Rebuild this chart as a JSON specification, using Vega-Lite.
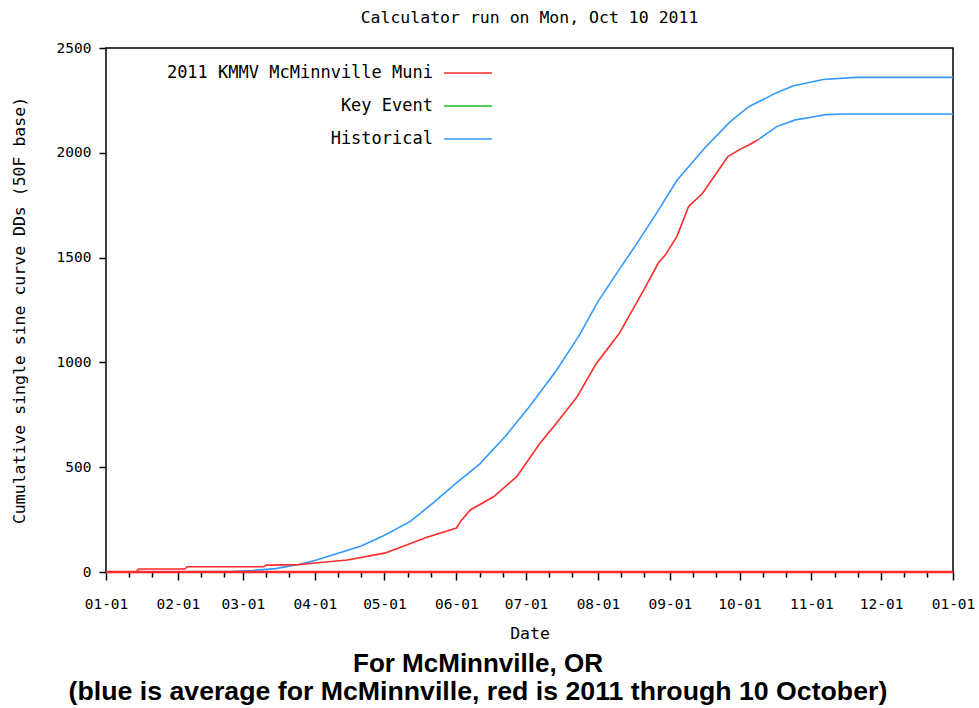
{
  "$schema": "https://vega.github.io/schema/vega-lite/v6.json",
  "padding": {"left": 10, "top": 8, "right": 5, "bottom": 2},
  "background": "white",
  "title": {
    "text": "For McMinnville, OR",
    "subtitle": "(blue is average for McMinnville, red is 2011 through 10 October)",
    "orient": "bottom",
    "anchor": "middle",
    "frame": "bounds",
    "dx": -15,
    "font": "Liberation Sans",
    "fontSize": 26,
    "fontWeight": "bold",
    "color": "black",
    "subtitleFont": "Liberation Sans",
    "subtitleFontSize": 26.7,
    "subtitleFontWeight": "bold",
    "subtitleColor": "black",
    "subtitlePadding": 2,
    "offset": 8
  },
  "datasets": {
    "dd": [
      {"d": "2011-01-01", "v": 0, "s": "Historical", "g": "hist"},
      {"d": "2011-02-01", "v": 1, "s": "Historical", "g": "hist"},
      {"d": "2011-02-25", "v": 3, "s": "Historical", "g": "hist"},
      {"d": "2011-03-05", "v": 7, "s": "Historical", "g": "hist"},
      {"d": "2011-03-15", "v": 16, "s": "Historical", "g": "hist"},
      {"d": "2011-03-25", "v": 36, "s": "Historical", "g": "hist"},
      {"d": "2011-04-01", "v": 55, "s": "Historical", "g": "hist"},
      {"d": "2011-04-11", "v": 89, "s": "Historical", "g": "hist"},
      {"d": "2011-04-21", "v": 124, "s": "Historical", "g": "hist"},
      {"d": "2011-05-01", "v": 175, "s": "Historical", "g": "hist"},
      {"d": "2011-05-12", "v": 240, "s": "Historical", "g": "hist"},
      {"d": "2011-05-22", "v": 330, "s": "Historical", "g": "hist"},
      {"d": "2011-06-01", "v": 425, "s": "Historical", "g": "hist"},
      {"d": "2011-06-11", "v": 515, "s": "Historical", "g": "hist"},
      {"d": "2011-06-22", "v": 646, "s": "Historical", "g": "hist"},
      {"d": "2011-07-02", "v": 782, "s": "Historical", "g": "hist"},
      {"d": "2011-07-14", "v": 960, "s": "Historical", "g": "hist"},
      {"d": "2011-07-24", "v": 1130, "s": "Historical", "g": "hist"},
      {"d": "2011-08-01", "v": 1290, "s": "Historical", "g": "hist"},
      {"d": "2011-08-10", "v": 1440, "s": "Historical", "g": "hist"},
      {"d": "2011-08-19", "v": 1588, "s": "Historical", "g": "hist"},
      {"d": "2011-08-27", "v": 1725, "s": "Historical", "g": "hist"},
      {"d": "2011-09-04", "v": 1868, "s": "Historical", "g": "hist"},
      {"d": "2011-09-16", "v": 2023, "s": "Historical", "g": "hist"},
      {"d": "2011-09-27", "v": 2149, "s": "Historical", "g": "hist"},
      {"d": "2011-10-05", "v": 2220, "s": "Historical", "g": "hist"},
      {"d": "2011-10-17", "v": 2287, "s": "Historical", "g": "hist"},
      {"d": "2011-10-24", "v": 2319, "s": "Historical", "g": "hist"},
      {"d": "2011-11-06", "v": 2350, "s": "Historical", "g": "hist"},
      {"d": "2011-11-20", "v": 2360, "s": "Historical", "g": "hist"},
      {"d": "2012-01-01", "v": 2360, "s": "Historical", "g": "hist"},
      {"d": "2011-10-09", "v": 2062, "s": "Historical", "g": "fc"},
      {"d": "2011-10-17", "v": 2125, "s": "Historical", "g": "fc"},
      {"d": "2011-10-25", "v": 2157, "s": "Historical", "g": "fc"},
      {"d": "2011-11-01", "v": 2170, "s": "Historical", "g": "fc"},
      {"d": "2011-11-07", "v": 2182, "s": "Historical", "g": "fc"},
      {"d": "2011-11-15", "v": 2185, "s": "Historical", "g": "fc"},
      {"d": "2012-01-01", "v": 2185, "s": "Historical", "g": "fc"},
      {"d": "2011-01-01", "v": 0, "s": "2011 KMMV McMinnville Muni", "g": "obs"},
      {"d": "2011-01-14", "v": 0, "s": "2011 KMMV McMinnville Muni", "g": "obs"},
      {"d": "2011-01-15", "v": 14, "s": "2011 KMMV McMinnville Muni", "g": "obs"},
      {"d": "2011-02-04", "v": 14, "s": "2011 KMMV McMinnville Muni", "g": "obs"},
      {"d": "2011-02-05", "v": 25, "s": "2011 KMMV McMinnville Muni", "g": "obs"},
      {"d": "2011-03-10", "v": 25, "s": "2011 KMMV McMinnville Muni", "g": "obs"},
      {"d": "2011-03-11", "v": 33, "s": "2011 KMMV McMinnville Muni", "g": "obs"},
      {"d": "2011-03-25", "v": 35, "s": "2011 KMMV McMinnville Muni", "g": "obs"},
      {"d": "2011-04-01", "v": 43, "s": "2011 KMMV McMinnville Muni", "g": "obs"},
      {"d": "2011-04-15", "v": 57, "s": "2011 KMMV McMinnville Muni", "g": "obs"},
      {"d": "2011-05-01", "v": 90, "s": "2011 KMMV McMinnville Muni", "g": "obs"},
      {"d": "2011-05-06", "v": 110, "s": "2011 KMMV McMinnville Muni", "g": "obs"},
      {"d": "2011-05-19", "v": 165, "s": "2011 KMMV McMinnville Muni", "g": "obs"},
      {"d": "2011-06-01", "v": 210, "s": "2011 KMMV McMinnville Muni", "g": "obs"},
      {"d": "2011-06-03", "v": 245, "s": "2011 KMMV McMinnville Muni", "g": "obs"},
      {"d": "2011-06-07", "v": 296, "s": "2011 KMMV McMinnville Muni", "g": "obs"},
      {"d": "2011-06-10", "v": 315, "s": "2011 KMMV McMinnville Muni", "g": "obs"},
      {"d": "2011-06-17", "v": 359, "s": "2011 KMMV McMinnville Muni", "g": "obs"},
      {"d": "2011-06-27", "v": 455, "s": "2011 KMMV McMinnville Muni", "g": "obs"},
      {"d": "2011-07-07", "v": 614, "s": "2011 KMMV McMinnville Muni", "g": "obs"},
      {"d": "2011-07-14", "v": 709, "s": "2011 KMMV McMinnville Muni", "g": "obs"},
      {"d": "2011-07-23", "v": 836, "s": "2011 KMMV McMinnville Muni", "g": "obs"},
      {"d": "2011-07-31", "v": 990, "s": "2011 KMMV McMinnville Muni", "g": "obs"},
      {"d": "2011-08-10", "v": 1135, "s": "2011 KMMV McMinnville Muni", "g": "obs"},
      {"d": "2011-08-20", "v": 1331, "s": "2011 KMMV McMinnville Muni", "g": "obs"},
      {"d": "2011-08-27", "v": 1474, "s": "2011 KMMV McMinnville Muni", "g": "obs"},
      {"d": "2011-08-30", "v": 1512, "s": "2011 KMMV McMinnville Muni", "g": "obs"},
      {"d": "2011-09-04", "v": 1600, "s": "2011 KMMV McMinnville Muni", "g": "obs"},
      {"d": "2011-09-09", "v": 1743, "s": "2011 KMMV McMinnville Muni", "g": "obs"},
      {"d": "2011-09-15", "v": 1806, "s": "2011 KMMV McMinnville Muni", "g": "obs"},
      {"d": "2011-09-19", "v": 1870, "s": "2011 KMMV McMinnville Muni", "g": "obs"},
      {"d": "2011-09-22", "v": 1918, "s": "2011 KMMV McMinnville Muni", "g": "obs"},
      {"d": "2011-09-26", "v": 1982, "s": "2011 KMMV McMinnville Muni", "g": "obs"},
      {"d": "2011-10-01", "v": 2015, "s": "2011 KMMV McMinnville Muni", "g": "obs"},
      {"d": "2011-10-05", "v": 2037, "s": "2011 KMMV McMinnville Muni", "g": "obs"},
      {"d": "2011-10-09", "v": 2062, "s": "2011 KMMV McMinnville Muni", "g": "obs"},
      {"d": "2011-01-01", "v": 0, "s": "2011 KMMV McMinnville Muni", "g": "zero"},
      {"d": "2012-01-01", "v": 0, "s": "2011 KMMV McMinnville Muni", "g": "zero"}
    ]
  },
  "vconcat": [
    {
      "width": 847,
      "height": 524,
      "title": {
        "text": "Calculator run on Mon, Oct 10 2011",
        "anchor": "middle",
        "frame": "group",
        "font": "DejaVu Sans Mono",
        "fontSize": 16.5,
        "fontWeight": "normal",
        "color": "black",
        "offset": 14
      },
      "data": {"name": "dd"},
      "resolve": {"axis": {"x": "independent"}},
      "layer": [
        {
          "transform": [{"filter": "datum.s == 'Historical'"}],
          "mark": {"type": "line", "strokeWidth": 1.6, "clip": true},
          "encoding": {
            "x": {
              "field": "d", "type": "temporal",
              "scale": {"type": "utc", "domain": [{"year": 2011, "month": 1, "date": 1, "utc": true}, {"year": 2012, "month": 1, "date": 1, "utc": true}]},
              "axis": {
                "orient": "bottom",
                "title": "Date",
                "labelExpr": "utcFormat(datum.value, '%m-%d')",
                "values": [
                  {"year": 2011, "month": 1, "date": 1, "utc": true},
                  {"year": 2011, "month": 2, "date": 1, "utc": true},
                  {"year": 2011, "month": 3, "date": 1, "utc": true},
                  {"year": 2011, "month": 4, "date": 1, "utc": true},
                  {"year": 2011, "month": 5, "date": 1, "utc": true},
                  {"year": 2011, "month": 6, "date": 1, "utc": true},
                  {"year": 2011, "month": 7, "date": 1, "utc": true},
                  {"year": 2011, "month": 8, "date": 1, "utc": true},
                  {"year": 2011, "month": 9, "date": 1, "utc": true},
                  {"year": 2011, "month": 10, "date": 1, "utc": true},
                  {"year": 2011, "month": 11, "date": 1, "utc": true},
                  {"year": 2011, "month": 12, "date": 1, "utc": true},
                  {"year": 2012, "month": 1, "date": 1, "utc": true}
                ],
                "tickSize": 8,
                "labelPadding": 17,
                "titlePadding": 15,
                "labelFlush": false,
                "labelOverlap": false
              }
            },
            "y": {
              "field": "v", "type": "quantitative",
              "scale": {"domain": [0, 2500], "nice": false},
              "axis": {
                "title": "Cumulative single sine curve DDs (50F base)",
                "format": "d",
                "values": [0, 500, 1000, 1500, 2000, 2500],
                "tickSize": 7,
                "labelPadding": 8,
                "titlePadding": 29
              }
            },
            "color": {
              "field": "s", "type": "nominal",
              "scale": {"domain": ["2011 KMMV McMinnville Muni", "Key Event", "Historical"], "range": ["#ff2b2b", "#22bb22", "#3399ff"]}
            },
            "detail": {"field": "g"}
          }
        },
        {
          "transform": [{"filter": "datum.g == 'obs'"}],
          "mark": {"type": "line", "strokeWidth": 1.6, "clip": true},
          "encoding": {
            "x": {
              "field": "d", "type": "temporal",
              "axis": {
                "orient": "bottom",
                "title": null,
                "labels": false,
                "domain": false,
                "grid": false,
                "tickSize": 5,
                "values": [
                  {"year": 2011, "month": 1, "date": 11, "utc": true}, {"year": 2011, "month": 1, "date": 21, "utc": true},
                  {"year": 2011, "month": 2, "date": 11, "utc": true}, {"year": 2011, "month": 2, "date": 21, "utc": true},
                  {"year": 2011, "month": 3, "date": 11, "utc": true}, {"year": 2011, "month": 3, "date": 21, "utc": true},
                  {"year": 2011, "month": 4, "date": 11, "utc": true}, {"year": 2011, "month": 4, "date": 21, "utc": true},
                  {"year": 2011, "month": 5, "date": 11, "utc": true}, {"year": 2011, "month": 5, "date": 21, "utc": true},
                  {"year": 2011, "month": 6, "date": 11, "utc": true}, {"year": 2011, "month": 6, "date": 21, "utc": true},
                  {"year": 2011, "month": 7, "date": 11, "utc": true}, {"year": 2011, "month": 7, "date": 21, "utc": true},
                  {"year": 2011, "month": 8, "date": 11, "utc": true}, {"year": 2011, "month": 8, "date": 21, "utc": true},
                  {"year": 2011, "month": 9, "date": 11, "utc": true}, {"year": 2011, "month": 9, "date": 21, "utc": true},
                  {"year": 2011, "month": 10, "date": 11, "utc": true}, {"year": 2011, "month": 10, "date": 21, "utc": true},
                  {"year": 2011, "month": 11, "date": 11, "utc": true}, {"year": 2011, "month": 11, "date": 21, "utc": true},
                  {"year": 2011, "month": 12, "date": 11, "utc": true}, {"year": 2011, "month": 12, "date": 21, "utc": true}
                ]
              }
            },
            "y": {"field": "v", "type": "quantitative"},
            "color": {"field": "s", "type": "nominal"}
          }
        },
        {
          "transform": [{"filter": "datum.g == 'zero'"}],
          "mark": {"type": "line", "strokeWidth": 2.5, "clip": false},
          "encoding": {
            "x": {"field": "d", "type": "temporal", "axis": null},
            "y": {"field": "v", "type": "quantitative"},
            "color": {"field": "s", "type": "nominal"}
          }
        }
      ]
    }
  ],
  "config": {
    "view": {"stroke": "black", "strokeWidth": 1.5},
    "axis": {
      "grid": false,
      "domain": false,
      "labelFont": "DejaVu Sans Mono",
      "labelFontSize": 14.5,
      "labelColor": "black",
      "titleFont": "DejaVu Sans Mono",
      "titleFontSize": 16.5,
      "titleFontWeight": "normal",
      "titleColor": "black",
      "tickColor": "black",
      "tickWidth": 1.5
    },
    "legend": {
      "orient": "none",
      "legendX": 337,
      "legendY": 0,
      "title": null,
      "symbolType": "stroke",
      "symbolSize": 2304,
      "symbolStrokeWidth": 1.6,
      "labelAlign": "right",
      "labelOffset": -60,
      "labelFont": "DejaVu Sans Mono",
      "labelFontSize": 17,
      "labelColor": "black",
      "labelLimit": 500,
      "rowPadding": -15
    }
  }
}
